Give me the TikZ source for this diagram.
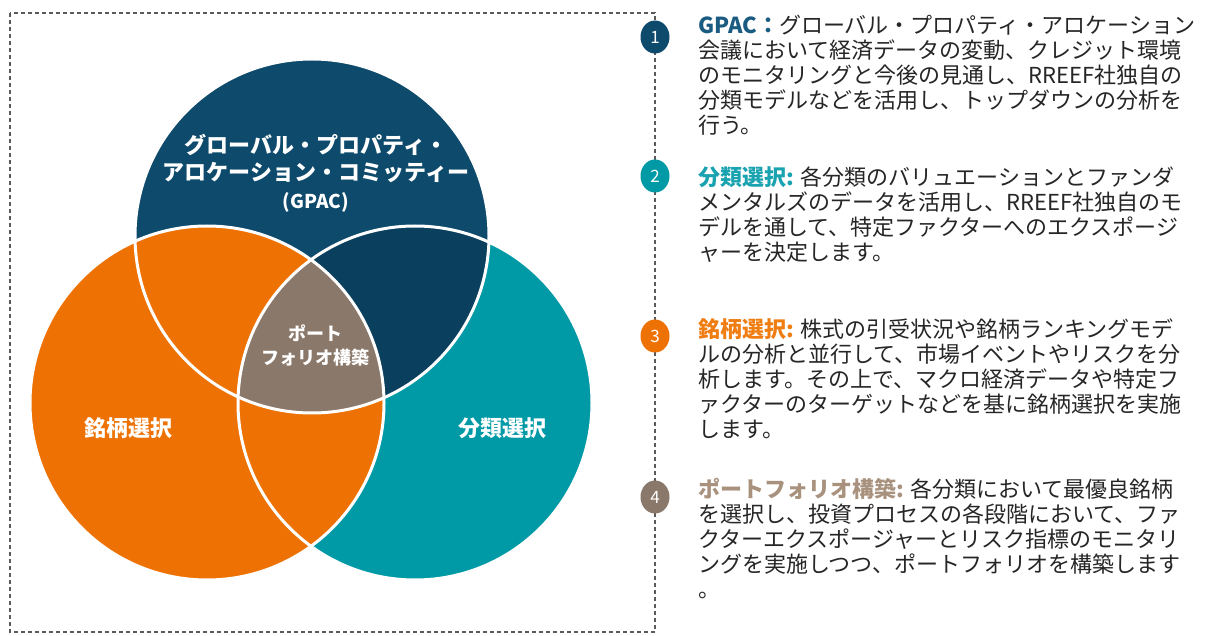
\documentclass[tikz,border=0pt]{standalone}
\usepackage{fontspec}
\setmainfont{Noto Sans CJK JP}
\usetikzlibrary{shapes.geometric}
\definecolor{gdark}{HTML}{0D4A6B}
\definecolor{gdarkin}{HTML}{0A3F5E}
\definecolor{gteal}{HTML}{0099A6}
\definecolor{gorange}{HTML}{EE7203}
\definecolor{gbrown}{HTML}{8A786A}
\definecolor{hdark}{HTML}{1A5B82}
\definecolor{hteal}{HTML}{19A2AF}
\definecolor{horange}{HTML}{F07D12}
\definecolor{hbrown}{HTML}{A8927E}
\definecolor{bodytxt}{HTML}{262626}
\definecolor{framec}{HTML}{5A5A5A}
\begin{document}
\begin{tikzpicture}[x=1pt,y=-1pt,
  frame/.style={draw=framec, line width=1.3pt, dash pattern=on 4pt off 3pt},
  ring/.style={draw=white, line width=3pt},
  vlabel/.style={text=white, font=\bfseries\fontsize{22}{27.5}\selectfont, align=center, inner sep=0pt},
  numc/.style={ellipse, minimum width=29pt, minimum height=33pt, inner sep=0pt, text=white, font=\fontsize{17}{17}\selectfont},
  desc/.style={anchor=north west, inner sep=0pt, align=left, text=bodytxt, font=\fontsize{22}{25}\selectfont}
]
\useasboundingbox (0,0) rectangle (1211,636);
\fill[white] (0,0) rectangle (1211,636);
% frame
\draw[frame] (10,13) rectangle (655,632);
% venn
\coordinate (cg) at (312,236);
\coordinate (co) at (207,403);
\coordinate (ct) at (415,403);
\fill[gteal] (ct) circle[radius=177];
\fill[gdark] (cg) circle[radius=177];
\begin{scope}
  \clip (ct) circle[radius=177];
  \fill[gdarkin] (cg) circle[radius=177];
\end{scope}
\fill[gorange] (co) circle[radius=177];
\begin{scope}
  \clip (cg) circle[radius=177];
  \clip (co) circle[radius=177];
  \fill[gbrown] (ct) circle[radius=177];
\end{scope}
\draw[ring] (ct) circle[radius=177];
\draw[ring] (cg) circle[radius=177];
\draw[ring] (co) circle[radius=177];
% venn labels
\node[vlabel] (lg) at (316,173) {グローバル・プロパティ・\\アロケーション・コミッティー\\{\fontsize{19}{19}\selectfont(GPAC)}};
\node[vlabel] (lo) at (128,428) {銘柄選択};
\node[vlabel] (lt) at (502,428) {分類選択};
\node[vlabel, font=\bfseries\fontsize{18}{24}\selectfont] (lp) at (315,345) {ポート\\フォリオ構築};
% numbered markers
\node[numc, fill=gdark] (n1) at (655,37) {1};
\node[numc, fill=gteal] (n2) at (655,176) {2};
\node[numc, fill=gorange] (n3) at (655,336) {3};
\node[numc, fill=gbrown] (n4) at (655,497) {4};
% descriptions
\node[desc] (t1) at (698,15) {{\bfseries\color{hdark}GPAC：}グローバル・プロパティ・アロケーション\\会議において経済データの変動、クレジット環境\\のモニタリングと今後の見通し、RREEF社独自の\\分類モデルなどを活用し、トップダウンの分析を\\行う。};
\node[desc] (t2) at (698,166) {{\bfseries\color{hteal}分類選択:} 各分類のバリュエーションとファンダ\\メンタルズのデータを活用し、RREEF社独自のモ\\デルを通して、特定ファクターへのエクスポージ\\ャーを決定します。};
\node[desc] (t3) at (698,318) {{\bfseries\color{horange}銘柄選択:} 株式の引受状況や銘柄ランキングモデ\\ルの分析と並行して、市場イベントやリスクを分\\析します。その上で、マクロ経済データや特定フ\\ァクターのターゲットなどを基に銘柄選択を実施\\します。};
\node[desc] (t4) at (698,478) {{\bfseries\color{hbrown}ポートフォリオ構築:} 各分類において最優良銘柄\\を選択し、投資プロセスの各段階において、ファ\\クターエクスポージャーとリスク指標のモニタリ\\ングを実施しつつ、ポートフォリオを構築します\\。};
\end{tikzpicture}
\end{document}
